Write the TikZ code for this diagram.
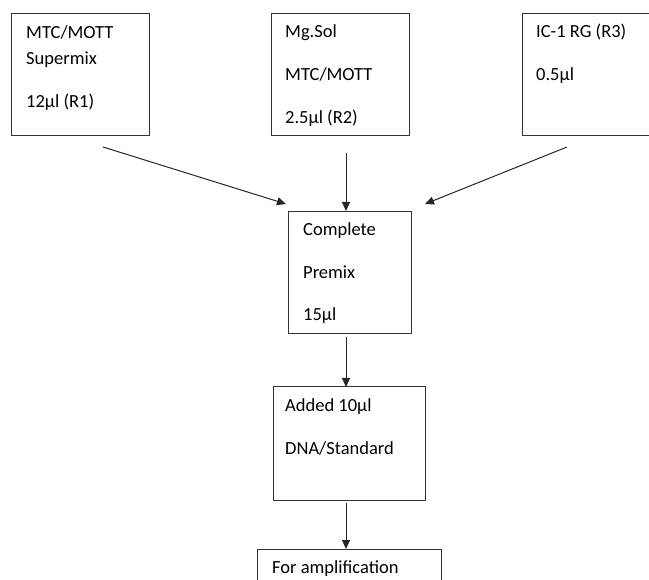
\documentclass[tikz,border=0pt]{standalone}
\usepackage{fontspec}
\setmainfont{Carlito}
\usetikzlibrary{arrows.meta}
\newcommand\bh{122}

\begin{document}
\begin{tikzpicture}[x=1pt, y=-1pt,
  box/.style={draw=black!80, line width=1pt, anchor=north west, inner sep=0pt, outer sep=0pt},
  txt/.style={anchor=base west, inner sep=0pt, font=\fontsize{18.5}{22}\selectfont},
  arr/.style={-{Triangle[length=9pt,width=8pt]}, line width=1pt, black!85}]
\useasboundingbox (0,0) rectangle (649,580);
\clip (0,0) rectangle (649,580);

%reagent boxes on top
\node at (11, 14) [box, minimum width=138, minimum height=\bh] (r1) {};
\node at (271, 14) [box, minimum width=138, minimum height=\bh] (r2) {};
\node at (522, 14) [box, minimum width=160, minimum height=\bh] (r3) {};

\node at (26, 39) [txt] (r1a) {MTC/MOTT};
\node at (26, 65) [txt] (r1b) {Supermix};
\node at (26, 108) [txt] (r1c) {12µl (R1)};

\node at (285, 38) [txt] (r2a) {Mg.Sol};
\node at (285, 81) [txt] (r2b) {MTC/MOTT};
\node at (285, 124) [txt] (r2c) {2.5µl (R2)};

\node at (536, 38) [txt] (r3a) {IC-1 RG (R3)};
\node at (536, 81) [txt] (r3b) {0.5µl};

%premix, sample and last step
\node at (288, 212) [box, minimum width=123, minimum height=\bh] (cp) {};
\node at (303, 236) [txt] (cpa) {Complete};
\node at (303, 279) [txt] (cpb) {Premix};
\node at (303, 321) [txt] (cpc) {15µl};

\node at (273, 387) [box, minimum width=152, minimum height=114] (dna) {};
\node at (285, 412) [txt] (dnaa) {Added 10µl};
\node at (285, 455) [txt] (dnab) {DNA/Standard};

\node at (257, 549) [box, minimum width=184, minimum height=60] (amp) {};
\node at (272, 573) [txt] (ampa) {For amplification};

%arrows into the premix
\coordinate (l1) at (103, 147);
\coordinate (l2) at (286, 204);
\coordinate (m1) at (346, 153);
\coordinate (m2) at (346, 211);
\coordinate (q1) at (567, 147);
\coordinate (q2) at (425, 204);

\draw [arr] (l1) -- (l2);
\draw [arr] (m1) -- (m2);
\draw [arr] (q1) -- (q2);

%down the chain
\draw [arr, shorten <=3pt] (cp.south -| m1) -- (dna.north -| m1);
\draw [arr, shorten <=2pt] (dna.south -| m1) -- (amp.north -| m1);
\end{tikzpicture}
\end{document}
